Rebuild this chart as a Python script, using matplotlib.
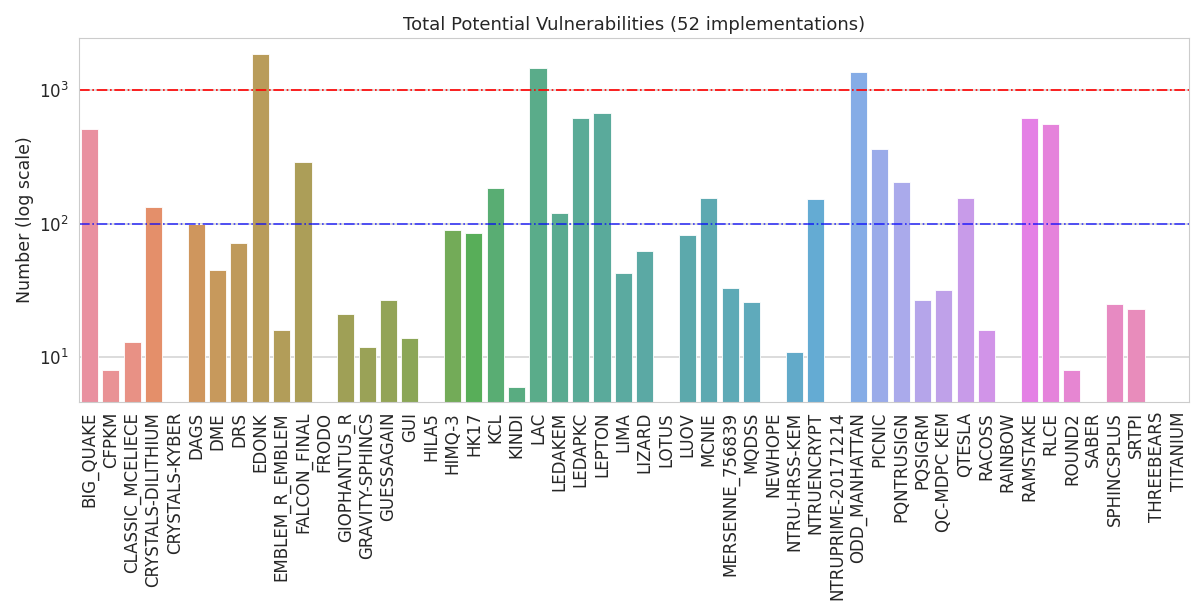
import numpy as np
import matplotlib
matplotlib.use("Agg")
import matplotlib.pyplot as plt
import seaborn as sns

# implementations and number of potential vulnerabilities (0 = none found)
names = ["BIG_QUAKE", "CFPKM", "CLASSIC_MCELIECE", "CRYSTALS-DILITHIUM", "CRYSTALS-KYBER",
         "DAGS", "DME", "DRS", "EDONK", "EMBLEM_R_EMBLEM", "FALCON_FINAL", "FRODO",
         "GIOPHANTUS_R", "GRAVITY-SPHINCS", "GUESSAGAIN", "GUI", "HILA5", "HIMQ-3", "HK17",
         "KCL", "KINDI", "LAC", "LEDAKEM", "LEDAPKC", "LEPTON", "LIMA", "LIZARD", "LOTUS",
         "LUOV", "MCNIE", "MERSENNE_756839", "MQDSS", "NEWHOPE", "NTRU-HRSS-KEM",
         "NTRUENCRYPT", "NTRUPRIME-20171214", "ODD_MANHATTAN", "PICNIC", "PQNTRUSIGN",
         "PQSIGRM", "QC-MDPC KEM", "QTESLA", "RACOSS", "RAINBOW", "RAMSTAKE", "RLCE",
         "ROUND2", "SABER", "SPHINCSPLUS", "SRTPI", "THREEBEARS", "TITANIUM"]
counts = [514, 8, 13, 132, 0,
          100, 45, 72, 1850, 16, 287, 0,
          21, 12, 27, 14, 0, 89, 85,
          185, 6, 1465, 121, 622, 678, 43, 62, 0,
          82, 155, 33, 26, 0, 11,
          152, 0, 1373, 362, 203,
          27, 32, 155, 16, 0, 622, 561,
          8, 0, 25, 23, 0, 0]
thresholds = [1000, 100]
threshold_colors = ["red", "blue"]

sns.set_style("whitegrid")
plt.rcParams['font.family'] = ['DejaVu Sans']

fig = plt.figure(figsize=(11.93, 6.03), dpi=100)
ax = fig.add_axes([0.066, 0.333, 0.931, 0.604])

pal = sns.color_palette("husl", len(names))
cols = []
for c in pal:
    d = np.array(sns.desaturate(c, 0.75))
    cols.append(tuple(d * 0.88 + 0.12))  # a bit lighter, like the original
x = np.arange(len(names))
vals = np.array(counts, dtype=float)
vals[vals == 0] = np.nan
ax.bar(x, vals, width=0.8, color=cols, edgecolor="#ffffff", linewidth=0.6)

ax.set_yscale("log")
ax.set_ylim(4.6, 2450)
ax.set_xlim(-0.5, len(names) - 0.5)
for t, c in zip(thresholds, threshold_colors):
    ax.axhline(t, color=c, linestyle="-.", linewidth=1.2, alpha=0.75 if c == "blue" else 1.0)

ax.set_xticks(x)
ax.set_xticklabels(names, rotation=90, fontsize=12)
ax.tick_params(axis="y", labelsize=12)
ax.xaxis.grid(False)
ax.yaxis.grid(True, which="major", color="#d5d5d5", linewidth=1.2)
ax.yaxis.grid(False, which="minor")
ax.set_ylabel("Number (log scale)", fontsize=12.5)
ax.set_title("Total Potential Vulnerabilities (52 implementations)", fontsize=13)

fig.savefig("out.png", dpi=100)
